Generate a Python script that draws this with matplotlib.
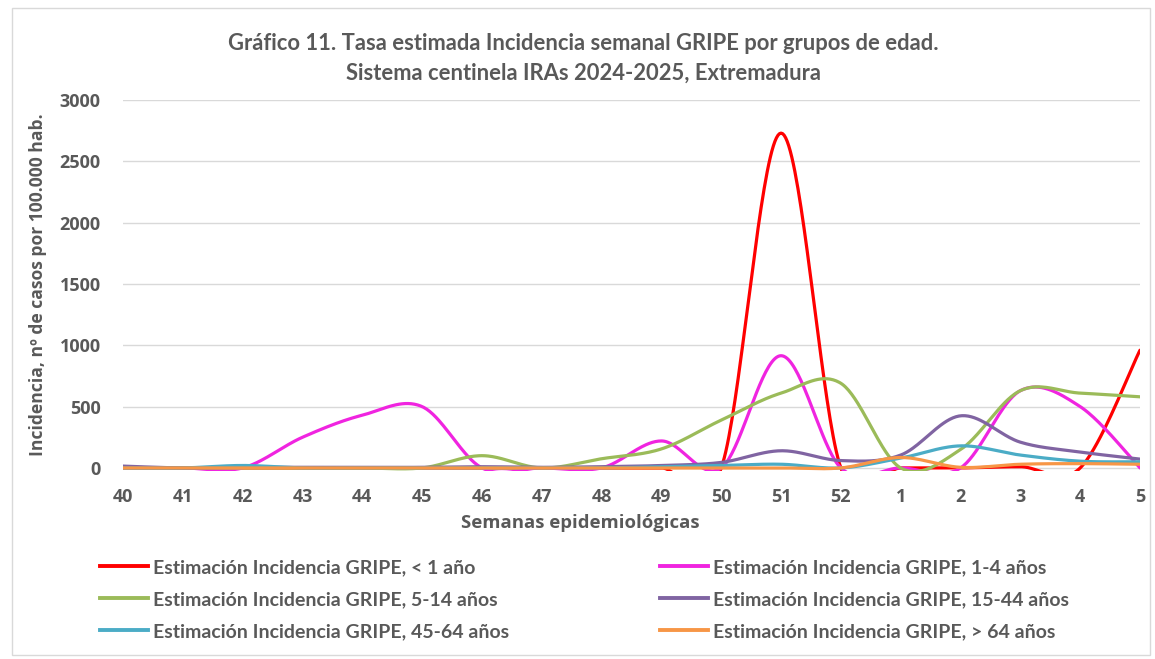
import numpy as np
import matplotlib
matplotlib.use('Agg')
import matplotlib.pyplot as plt
from matplotlib.lines import Line2D
from matplotlib.patches import Rectangle

# semanas epidemiologicas y tasas estimadas
semanas = ['40', '41', '42', '43', '44', '45', '46', '47', '48', '49', '50',
           '51', '52', '1', '2', '3', '4', '5']
menor_1 = [0, 0, 0, 0, 0, 0, 0, 0, 0, 0, 0, 2730, 0, 0, 0, 10, 0, 960]
de_1_4 = [0, 0, 0, 250, 430, 500, 0, 0, 0, 220, 0, 915, 0, 0, 0, 630, 500, 0]
de_5_14 = [0, 0, 0, 0, 0, 0, 100, 0, 75, 155, 390, 610, 690, 0, 150, 630, 610, 580]
de_15_44 = [15, 0, 5, 5, 5, 5, 10, 5, 10, 20, 45, 140, 60, 105, 425, 210, 130, 72]
de_45_64 = [0, 0, 20, 0, 0, 0, 0, 0, 0, 10, 20, 30, 0, 80, 180, 105, 55, 50]
mayor_64 = [0, 0, 0, 0, 0, 0, 0, 0, 0, 0, 0, 0, 0, 85, 5, 30, 35, 30]

series = [
    ('Estimación Incidencia GRIPE, < 1 año', menor_1, '#FF0000'),
    ('Estimación Incidencia GRIPE, 1-4 años', de_1_4, '#F024E0'),
    ('Estimación Incidencia GRIPE, 5-14 años', de_5_14, '#9BBB59'),
    ('Estimación Incidencia GRIPE, 15-44 años', de_15_44, '#8064A2'),
    ('Estimación Incidencia GRIPE, 45-64 años', de_45_64, '#4BACC6'),
    ('Estimación Incidencia GRIPE, > 64 años', mayor_64, '#F79646'),
]


def suavizar(y, n=40):
    # curva tipo "linea suavizada" de Excel (Bezier con tangentes Catmull-Rom)
    y = np.asarray(y, dtype=float)
    x = np.arange(len(y), dtype=float)
    xs, ys = [], []
    for i in range(len(y) - 1):
        y0 = y[i - 1] if i > 0 else y[i]
        y3 = y[i + 2] if i + 2 < len(y) else y[i + 1]
        x0 = x[i - 1] if i > 0 else x[i]
        x3 = x[i + 2] if i + 2 < len(y) else x[i + 1]
        p0 = (x[i], y[i])
        p3 = (x[i + 1], y[i + 1])
        p1 = (x[i] + (x[i + 1] - x0) / 6, y[i] + (y[i + 1] - y0) / 6)
        p2 = (x[i + 1] - (x3 - x[i]) / 6, y[i + 1] - (y3 - y[i]) / 6)
        t = np.linspace(0, 1, n)
        a, b, c, d = (1 - t) ** 3, 3 * (1 - t) ** 2 * t, 3 * (1 - t) * t ** 2, t ** 3
        xs.append(a * p0[0] + b * p1[0] + c * p2[0] + d * p3[0])
        ys.append(a * p0[1] + b * p1[1] + c * p2[1] + d * p3[1])
    return np.concatenate(xs), np.concatenate(ys)


plt.rcParams['font.family'] = ['Open Sans', 'DejaVu Sans']
gris = '#595959'
estrecha = ['Lato', 'DejaVu Sans']

fig = plt.figure(figsize=(11.55, 6.59), dpi=100)
fig.patches.append(Rectangle((12 / 1155, 4 / 659), 1138 / 1155, 647 / 659,
                             transform=fig.transFigure, fill=False,
                             edgecolor='#D9D9D9', linewidth=1))

ax = fig.add_axes([123 / 1155, 1 - 471 / 659, (1140 - 123) / 1155, 371 / 659])
for nombre, valores, color in series:
    xs, ys = suavizar(valores)
    ax.plot(xs, ys, color=color, linewidth=2.3, solid_capstyle='round', zorder=3)

ax.set_xlim(0, len(semanas) - 1)
ax.set_ylim(-25, 3000)
ax.set_yticks(range(0, 3001, 500))
ax.set_xticks(range(len(semanas)))
ax.set_xticklabels(semanas)
for v in range(500, 3001, 500):
    ax.axhline(v, color='#D9D9D9', linewidth=1, zorder=1)
ax.axhline(0, color='#D9D9D9', linewidth=1, zorder=1)
for s in ax.spines.values():
    s.set_visible(False)
ax.tick_params(length=0, labelsize=13, labelcolor=gris)
ax.tick_params(axis='x', pad=12)
ax.tick_params(axis='y', pad=16)
for lbl in ax.get_xticklabels() + ax.get_yticklabels():
    lbl.set_fontweight('bold')

ax.set_ylabel('Incidencia, nº de casos por 100.000 hab.', fontsize=12.6,
              fontweight='bold', color=gris)
ax.yaxis.set_label_coords((47 - 123) / 1017, (468 - 282) / 371)
fig.text(580 / 1155, 1 - 523 / 659, 'Semanas epidemiológicas', ha='center',
         va='center', fontsize=13.3, fontweight='bold', color=gris)

fig.text(583 / 1155, 1 - 44 / 659,
         'Gráfico 11. Tasa estimada Incidencia semanal GRIPE por grupos de edad.',
         ha='center', va='center', fontsize=15.8, fontweight='bold', color=gris,
         family=estrecha)
fig.text(583 / 1155, 1 - 73 / 659, 'Sistema centinela IRAs 2024-2025, Extremadura',
         ha='center', va='center', fontsize=15.8, fontweight='bold', color=gris,
         family=estrecha)

# leyenda en dos columnas, como en el original
handles = [Line2D([], [], color=c, linewidth=2.8) for _, _, c in series]
labels = [n for n, _, _ in series]
for col, x0 in enumerate([92, 652]):
    idx = [col, col + 2, col + 4]
    leg = fig.legend([handles[i] for i in idx], [labels[i] for i in idx],
                     loc='upper left', bbox_to_anchor=(x0 / 1155, 1 - 551 / 659),
                     frameon=False, handlelength=2.5, handletextpad=0.25,
                     labelspacing=0.78, borderaxespad=0,
                     prop={'family': estrecha, 'size': 14, 'weight': 'bold'})
    for t in leg.get_texts():
        t.set_color(gris)

fig.savefig('out.png', dpi=100)
